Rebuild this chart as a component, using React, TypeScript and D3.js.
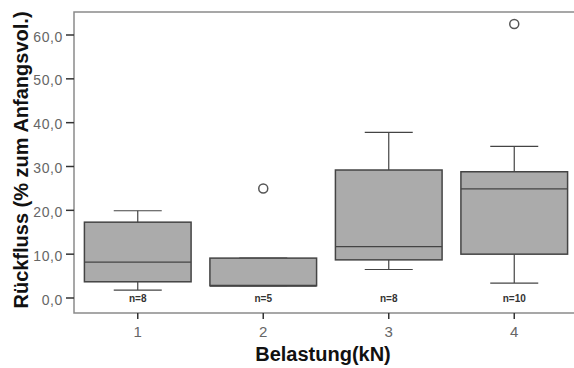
import React, { useRef, useEffect } from 'react';
import * as d3 from 'd3';

const categories = ['1', '2', '3', '4'];
const q1 = [3.7, 2.8, 8.7, 10.0];
const median = [8.2, 2.8, 11.7, 24.9];
const q3 = [17.3, 9.1, 29.2, 28.8];
const whiskerLow = [1.8, 2.8, 6.5, 3.4];
const whiskerHigh = [19.9, 9.1, 37.8, 34.6];
const outliers = [[], [25.0], [], [62.5]];
const counts = ['n=8', 'n=5', 'n=8', 'n=10'];
const yTicks = [0, 10, 20, 30, 40, 50, 60];

const App = () => {
    const ref = useRef(null);

    useEffect(() => {
        const svg = d3.select(ref.current);
        svg.selectAll('*').remove();

        const width = 574;
        const font = 'Liberation Sans, Arial, sans-serif';

        const x = d3.scaleBand().domain(categories).range([75, 577]);
        const y = d3.scaleLinear().domain([0, 60]).range([298, 35]);

        const top = 12;
        const bottom = 313;
        const left = 74;

        // frame
        svg.append('path')
            .attr('d', `M${width + 2},${top}H${left}V${bottom}H${width + 2}`)
            .attr('fill', 'none')
            .attr('stroke', '#8a8a8a')
            .attr('stroke-width', 1.5);

        // y ticks
        const yAxis = svg.append('g');
        yTicks.forEach(t => {
            yAxis.append('line')
                .attr('x1', 66).attr('x2', left)
                .attr('y1', y(t)).attr('y2', y(t))
                .attr('stroke', '#333').attr('stroke-width', 1.5);
            yAxis.append('text')
                .attr('x', 63).attr('y', y(t) + 6.5)
                .attr('text-anchor', 'end')
                .attr('fill', '#666')
                .style('font-family', font)
                .style('font-size', '14px')
                .style('letter-spacing', '0.6px')
                .text(t.toFixed(1).replace('.', ','));
        });

        // x ticks
        categories.forEach(c => {
            const cx = x(c) + x.bandwidth() / 2;
            svg.append('line')
                .attr('x1', cx).attr('x2', cx)
                .attr('y1', bottom).attr('y2', bottom + 6)
                .attr('stroke', '#333').attr('stroke-width', 1.5);
            svg.append('text')
                .attr('x', cx).attr('y', 337)
                .attr('text-anchor', 'middle')
                .attr('fill', '#666')
                .style('font-family', font)
                .style('font-size', '15px')
                .text(c);
        });

        const boxW = x.bandwidth() * 0.85;
        const capW = boxW * 0.45;
        const stroke = '#444';

        categories.forEach((c, i) => {
            const cx = x(c) + x.bandwidth() / 2;
            const g = svg.append('g');

            // whiskers
            g.append('line')
                .attr('x1', cx).attr('x2', cx)
                .attr('y1', y(whiskerHigh[i])).attr('y2', y(q3[i]))
                .attr('stroke', stroke).attr('stroke-width', 1.2);
            g.append('line')
                .attr('x1', cx).attr('x2', cx)
                .attr('y1', y(whiskerLow[i])).attr('y2', y(q1[i]))
                .attr('stroke', stroke).attr('stroke-width', 1.2);
            g.append('line')
                .attr('x1', cx - capW / 2).attr('x2', cx + capW / 2)
                .attr('y1', y(whiskerHigh[i])).attr('y2', y(whiskerHigh[i]))
                .attr('stroke', stroke).attr('stroke-width', 1.2);
            g.append('line')
                .attr('x1', cx - capW / 2).attr('x2', cx + capW / 2)
                .attr('y1', y(whiskerLow[i])).attr('y2', y(whiskerLow[i]))
                .attr('stroke', stroke).attr('stroke-width', 1.2);

            // box
            g.append('rect')
                .attr('x', cx - boxW / 2)
                .attr('y', y(q3[i]))
                .attr('width', boxW)
                .attr('height', y(q1[i]) - y(q3[i]))
                .attr('fill', '#ababab')
                .attr('stroke', stroke)
                .attr('stroke-width', 1.5);

            // median
            g.append('line')
                .attr('x1', cx - boxW / 2).attr('x2', cx + boxW / 2)
                .attr('y1', y(median[i])).attr('y2', y(median[i]))
                .attr('stroke', stroke).attr('stroke-width', i === 1 ? 2 : 1.2);

            // outliers
            outliers[i].forEach(v => {
                g.append('circle')
                    .attr('cx', cx).attr('cy', y(v))
                    .attr('r', 4.5)
                    .attr('fill', '#fff')
                    .attr('stroke', '#555')
                    .attr('stroke-width', 1.5);
            });

            // n label
            g.append('text')
                .attr('x', cx).attr('y', 301.5)
                .attr('text-anchor', 'middle')
                .attr('fill', '#333')
                .style('font-family', font)
                .style('font-size', '10px')
                .style('font-weight', 'bold')
                .text(counts[i]);
        });

        // axis titles
        svg.append('text')
            .attr('x', 323).attr('y', 361)
            .attr('text-anchor', 'middle')
            .attr('fill', '#111')
            .style('font-family', font)
            .style('font-size', '20px')
            .style('font-weight', 'bold')
            .text('Belastung(kN)');

        svg.append('text')
            .attr('transform', 'translate(27.5,160) rotate(-90)')
            .attr('text-anchor', 'middle')
            .attr('fill', '#111')
            .style('font-family', font)
            .style('font-size', '20px')
            .style('font-weight', 'bold')
            .text('Rückfluss (% zum Anfangsvol.)');
    }, []);

    return (
        <div style={{ position: 'fixed', left: 0, top: 0, width: 574, height: 368, background: '#fff' }}>
            <svg ref={ref} width={574} height={368} style={{ display: 'block' }}></svg>
        </div>
    );
};

export default App;
